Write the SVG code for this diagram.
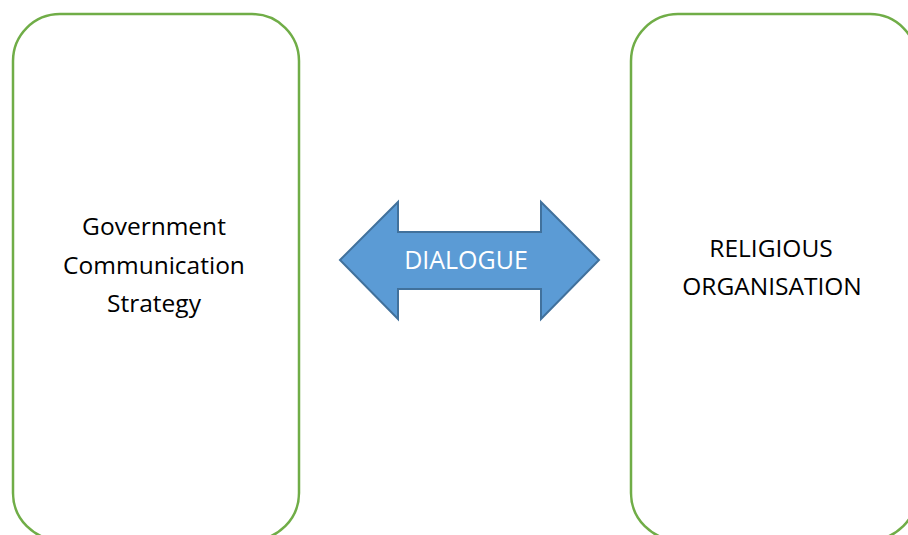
<svg xmlns="http://www.w3.org/2000/svg" width="908" height="535" viewBox="0 0 908 535">
<style>
.box{fill:#fff;stroke:#70AD47;stroke-width:2.5}
.lbl{font-family:"Open Sans","Liberation Sans",sans-serif;font-size:24.5px;fill:#000;text-anchor:middle}
.arr{fill:#5B9BD5;stroke:#41719C;stroke-width:2}
.al{font-family:"Open Sans","Liberation Sans",sans-serif;font-size:25px;fill:#fff;text-anchor:middle}
</style>
<rect width="908" height="535" fill="#fff"/>
<g id="government">
<rect class="box" x="13" y="14" width="286" height="526" rx="47" ry="47"/>
<text class="lbl" x="154" y="235" font-size="25.3">Government</text>
<text class="lbl" x="154" y="274" font-size="25.3">Communication</text>
<text class="lbl" x="154" y="312" font-size="25.3">Strategy</text>
</g>
<g id="religious">
<rect class="box" x="631" y="14" width="286" height="526" rx="47" ry="47"/>
<text class="lbl" x="771" y="257">RELIGIOUS</text>
<text class="lbl" x="772" y="295">ORGANISATION</text>
</g>
<g id="connectors">
<path class="arr" d="M340,260 L398,202 L398,232 L541,232 L541,202 L599,260 L541,319 L541,289 L398,289 L398,319 Z"/>
<text class="al" x="466" y="269">DIALOGUE</text>
</g>
</svg>
